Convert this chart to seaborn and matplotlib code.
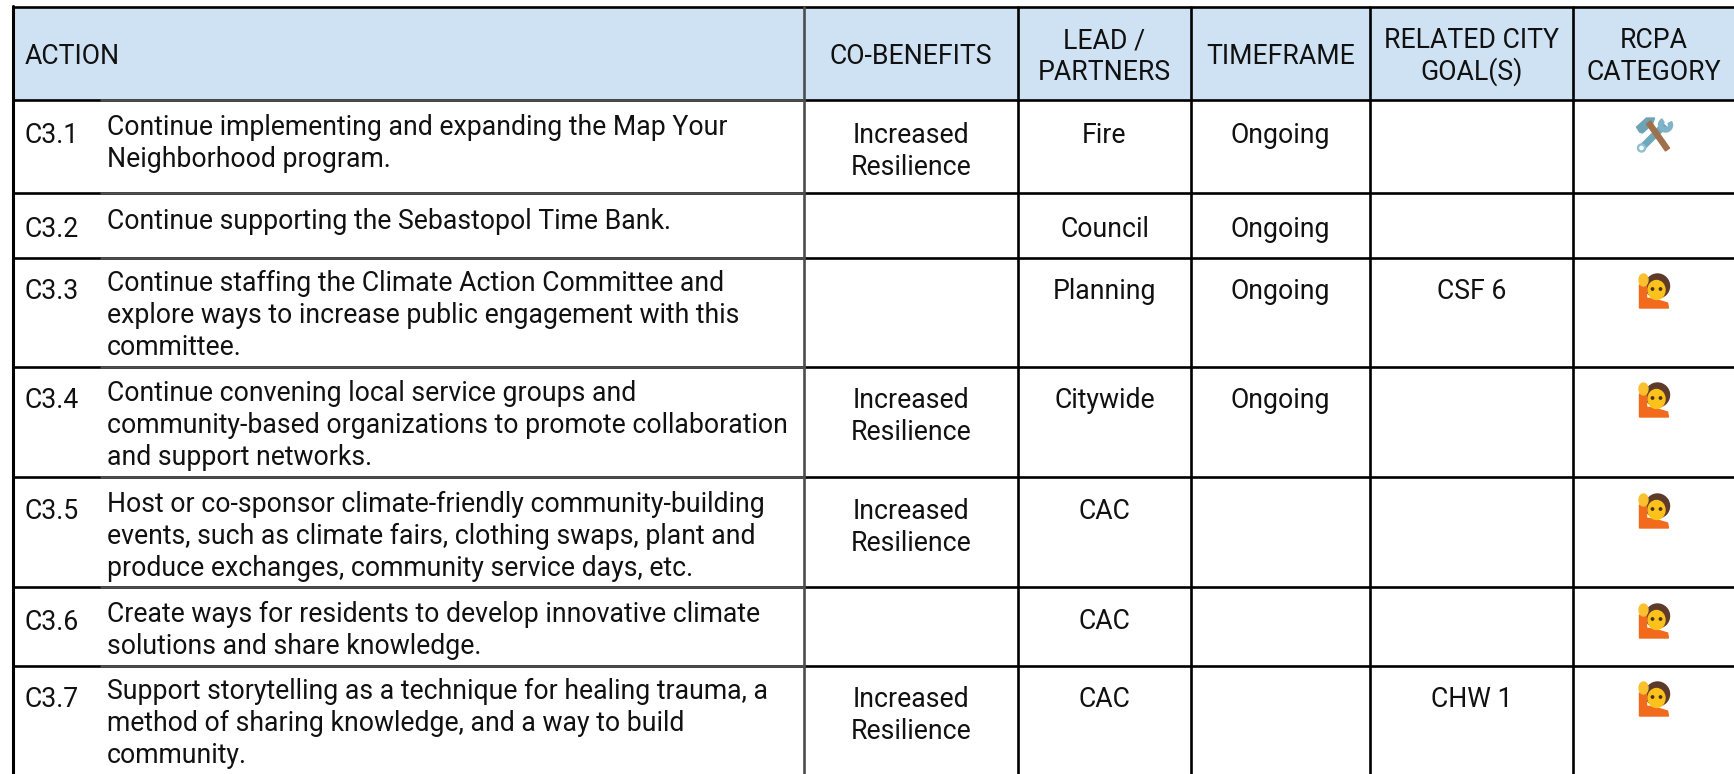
import numpy as np
import matplotlib
matplotlib.use("Agg")
import matplotlib.pyplot as plt
from matplotlib.colors import ListedColormap
from matplotlib.patches import Circle, Ellipse, Polygon, Wedge
import seaborn as sns

# table content
headers = [["ACTION"], ["CO-BENEFITS"], ["LEAD /", "PARTNERS"], ["TIMEFRAME"],
           ["RELATED CITY", "GOAL(S)"], ["RCPA", "CATEGORY"]]
ids = ["C3.1", "C3.2", "C3.3", "C3.4", "C3.5", "C3.6", "C3.7"]
actions = [
    ["Continue implementing and expanding the Map Your", "Neighborhood program."],
    ["Continue supporting the Sebastopol Time Bank."],
    ["Continue staffing the Climate Action Committee and",
     "explore ways to increase public engagement with this", "committee."],
    ["Continue convening local service groups and",
     "community-based organizations to promote collaboration", "and support networks."],
    ["Host or co-sponsor climate-friendly community-building",
     "events, such as climate fairs, clothing swaps, plant and",
     "produce exchanges, community service days, etc."],
    ["Create ways for residents to develop innovative climate",
     "solutions and share knowledge."],
    ["Support storytelling as a technique for healing trauma, a",
     "method of sharing knowledge, and a way to build", "community."],
]
benefits = [["Increased", "Resilience"], [], [], ["Increased", "Resilience"],
            ["Increased", "Resilience"], [], ["Increased", "Resilience"]]
leads = ["Fire", "Council", "Planning", "Citywide", "CAC", "CAC", "CAC"]
timeframes = ["Ongoing", "Ongoing", "Ongoing", "Ongoing", "", "", ""]
goals = ["", "", "CSF 6", "", "", "", "CHW 1"]
categories = ["tools", "", "person", "person", "person", "person", "person"]

# layout in reference pixels
W, H = 1734, 774
col_x = [13, 804, 1018, 1191, 1370, 1573, 1734]
row_y = [7, 100, 193, 258, 367, 477, 587, 666, 774]
action_base = [135, 229, 291, 401, 512, 622, 699]
id_base = [143, 237, 299, 408, 519, 630, 707]
center_base = [143, 237, 299, 408, 519, 629, 707]
header_base = [64, 48, 81]
LINE_GAP = 32
FS = 19.2
HEADER_BLUE = "#cfe2f3"
INK = "#111111"


def draw_tools(ax, x, y):
    # hammer and wrench, drawn since no emoji font is installed
    ax.add_patch(Polygon([[x - 15, y + 12], [x - 11, y + 16], [x + 13, y - 8], [x + 9, y - 12]],
                         color="#6fa8bd", zorder=3))
    ax.add_patch(Wedge((x + 12, y - 10), 7, -30, 240, width=4, color="#7fb4c8", zorder=3))
    ax.add_patch(Circle((x - 12, y + 13), 4, color="#8fc0d2", zorder=3))
    ax.add_patch(Circle((x - 12, y + 13), 1.6, color="white", zorder=4))
    ax.add_patch(Polygon([[x - 7, y - 11], [x - 3, y - 14], [x + 16, y + 13], [x + 12, y + 16]],
                         color="#a0704c", zorder=5))
    ax.add_patch(Polygon([[x - 17, y - 8], [x - 7, y - 17], [x + 1, y - 17], [x - 1, y - 11],
                          [x - 11, y - 2], [x - 14, y - 3]],
                         color="#6ea3b5", zorder=4))


def draw_person(ax, x, y):
    ax.add_patch(Ellipse((x + 4, y - 5), 24, 24, color="#5d3a2a", zorder=3))
    ax.add_patch(Polygon([[x - 14, y - 6], [x - 7, y - 6], [x - 7, y + 7], [x + 4, y + 9],
                          [x + 14, y + 12], [x + 15, y + 17], [x - 14, y + 17]],
                         color="#f26a1b", zorder=3))
    ax.add_patch(Ellipse((x - 10, y - 11), 9, 12, color="#fbc02d", zorder=4))
    ax.add_patch(Ellipse((x + 3, y - 1), 17, 19, color="#fcc21b", zorder=4))
    ax.add_patch(Circle((x - 1, y - 2), 1.2, color="#4a2f20", zorder=5))
    ax.add_patch(Circle((x + 7, y - 2), 1.2, color="#4a2f20", zorder=5))


sns.set_theme(style="white")
plt.rcParams["font.family"] = ["Roboto", "DejaVu Sans"]

fig = plt.figure(figsize=(W / 100, H / 100), dpi=100)

# header fill and white body come from a one column heatmap, one row per pixel
fill = np.repeat([1] + [0] * 7, np.diff(row_y))[:, None]
ax_bg = fig.add_axes([col_x[0] / W, 0, (W - col_x[0]) / W, 1 - row_y[0] / H])
sns.heatmap(fill, ax=ax_bg, cmap=ListedColormap(["white", HEADER_BLUE]), cbar=False,
            xticklabels=False, yticklabels=False)

# overlay in pixel coordinates for text and rules
ax = fig.add_axes([0, 0, 1, 1])
ax.set_xlim(0, W)
ax.set_ylim(H, 0)
ax.axis("off")

# rules
for y in row_y[:-1]:
    ax.plot([col_x[0] - 1, W], [y, y], color="black", lw=1.9, solid_capstyle="butt", zorder=2)
    if y > row_y[0]:
        ax.plot([100, col_x[1]], [y, y], color="#4d4d4d", lw=1.9, solid_capstyle="butt", zorder=2)
ax.plot([col_x[0], col_x[0]], [row_y[0] - 1, H], color="black", lw=2.2, zorder=2)
ax.plot([col_x[1], col_x[1]], [row_y[0], H], color="#4d4d4d", lw=1.9, zorder=2)
for x in col_x[2:-1]:
    ax.plot([x, x], [row_y[0], H], color="black", lw=1.9, zorder=2)


def centered(cx, base, lines):
    for i, line in enumerate(lines):
        ax.text(cx, base + i * LINE_GAP, line, ha="center", va="baseline",
                fontsize=FS, color=INK)


centers = [(a + b) / 2 for a, b in zip(col_x[:-1], col_x[1:])]

# header row
ax.text(25, header_base[0], headers[0][0], ha="left", va="baseline", fontsize=FS, color=INK)
for cx, lines in zip(centers[1:], headers[1:]):
    centered(cx, header_base[0] if len(lines) == 1 else header_base[1], lines)

# body rows
for i in range(len(ids)):
    ax.text(25, id_base[i], ids[i], ha="left", va="baseline", fontsize=FS, color=INK)
    for j, line in enumerate(actions[i]):
        ax.text(107, action_base[i] + j * LINE_GAP, line, ha="left", va="baseline",
                fontsize=FS, color=INK)
    centered(centers[1], center_base[i], benefits[i])
    centered(centers[2], center_base[i], [leads[i]])
    centered(centers[3], center_base[i], [timeframes[i]])
    centered(centers[4], center_base[i], [goals[i]])
    if categories[i] == "tools":
        draw_tools(ax, centers[5], center_base[i] - 8)
    elif categories[i] == "person":
        draw_person(ax, centers[5], center_base[i] - 8)

fig.savefig("out.png", dpi=100)
